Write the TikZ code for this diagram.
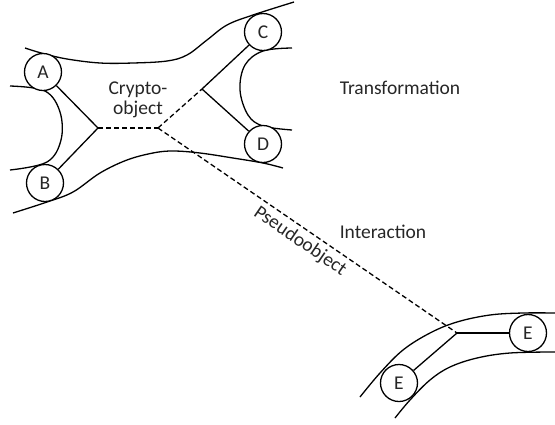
\documentclass[tikz,border=0pt]{standalone}
\usepackage{fontspec}
\setmainfont{Carlito}
\usepackage{xcolor}
\definecolor{labeltext}{HTML}{262626}
\usepackage{tikz}
\usetikzlibrary{positioning,calc}
\tikzset{
  obj/.style={circle, draw=black, fill=white, line width=1.3pt,
              minimum size=37pt, inner sep=0pt, text=labeltext,
              font=\fontsize{19.5}{23}\selectfont},
  lbl/.style={text=labeltext, font=\fontsize{19.5}{23}\selectfont, align=center},
  slbl/.style={text=labeltext, font=\fontsize{19.5}{23}\selectfont, inner sep=2pt},
  tube/.style={line width=1.3pt, smooth, tension=0.6},
  link/.style={line width=1.3pt},
  dlink/.style={line width=1.3pt, dash pattern=on 5pt off 3pt},
}
\begin{document}
\begin{tikzpicture}[x=1pt, y=-1pt]
  \useasboundingbox (0,0) rectangle (555,424);

  % tubes
  \draw[tube] plot coordinates {(25,48) (43,53.5) (67,59) (100,63) (133,63) (167,61)
                                (187,55) (207,40) (227,25) (253,15) (294,2)};
  \draw[tube] plot coordinates {(13,213) (47,202) (73,192) (100,173) (127,160) (153,153)
                                (173,151) (200,153) (233,158) (263,163) (283,168)};
  \draw[tube] plot coordinates {(10,86) (45,91) (60,112) (61,140) (47,162) (10,170)};
  \draw[tube] plot coordinates {(292,48) (263,51) (245,65) (240,90) (248,115) (263,126) (292,130)};
  \draw[tube] plot coordinates {(360,397) (380,373) (403,350) (430,333) (457,322) (490,315)
                                (523,313) (555,313)};
  \draw[tube] plot coordinates {(395,418) (410,400) (430,380) (450,367) (477,358) (510,353)
                                (555,352)};

  % junctions
  \coordinate (jl) at (98,128);
  \coordinate (jm) at (158,128);
  \coordinate (jr) at (202,89);
  \coordinate (je) at (457,333);

  \node[obj] (a)  at (43,72)   {A};
  \node[obj] (b)  at (45,183)  {B};
  \node[obj] (c)  at (263,32)  {C};
  \node[obj] (d)  at (263,144) {D};
  \node[obj] (e1) at (528,333) {E};
  \node[obj] (e2) at (399,383) {E};

  \node[lbl] (crypto) at (138,100) {Crypto-\\[-3pt]object};
  \node[lbl] (trans)  at (400,88)  {Transformation};
  \node[lbl] (inter)  at (383,232) {Interaction};

  \draw[link]  (a) -- (jl);
  \draw[link]  (b) -- (jl);
  \draw[dlink] (jl) -- (jm);
  \draw[dlink] (jm) -- (jr);
  \draw[link]  (jr) -- (c);
  \draw[link]  (jr) -- (d);
  \draw[dlink] (jm) -- node[slbl, sloped, below=2pt, pos=0.5] (pseudo) {Pseudoobject} (je);
  \draw[link]  (je) -- (e1);
  \draw[link]  (je) -- (e2);
\end{tikzpicture}
\end{document}
